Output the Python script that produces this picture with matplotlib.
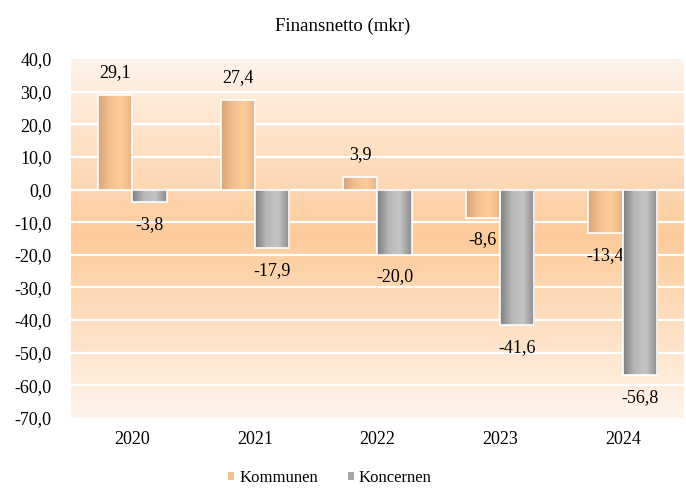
import numpy as np
import matplotlib
matplotlib.use("Agg")
import matplotlib.pyplot as plt
from matplotlib.colors import LinearSegmentedColormap
from matplotlib.patches import Patch

years = ["2020", "2021", "2022", "2023", "2024"]
kommunen = [29.1, 27.4, 3.9, -8.6, -13.4]
koncernen = [-3.8, -17.9, -20.0, -41.6, -56.8]
yticks = [40, 30, 20, 10, 0, -10, -20, -30, -40, -50, -60, -70]

plt.rcParams['font.family'] = ['Liberation Serif', 'DejaVu Serif']

fig = plt.figure(figsize=(6.86, 4.88), dpi=100)
ax = fig.add_axes([71 / 686, 1 - 418 / 488, 613 / 686, 359 / 488])

# background: light at top and bottom, stronger orange in the middle
bg_cmap = LinearSegmentedColormap.from_list(
    "bg", ["#fff4eb", "#fdcb9b", "#fff4eb"])
grad = np.linspace(0, 1, 256).reshape(-1, 1)
ax.imshow(grad, cmap=bg_cmap, aspect="auto", extent=[0, 1, 0, 1],
          transform=ax.transAxes, zorder=0)

ax.set_ylim(-70, 40)
ax.set_xlim(-0.5, len(years) - 0.5)
ax.set_yticks(yticks)
ax.set_yticklabels([f"{v:.1f}".replace(".", ",") for v in yticks], fontsize=13)
ax.set_xticks(range(len(years)))
ax.set_xticklabels(years, fontsize=13)
ax.tick_params(length=0)
ax.tick_params(axis="x", pad=9)
ax.tick_params(axis="y", pad=14)
for s in ax.spines.values():
    s.set_visible(False)
for v in yticks[1:-1]:
    ax.axhline(v, color="white", lw=1.6, zorder=1)

kom_cmap = LinearSegmentedColormap.from_list(
    "kom", ["#d8a57b", "#f3c08f", "#ffcc99", "#e3b386"])
kon_cmap = LinearSegmentedColormap.from_list(
    "kon", ["#7f7f7f", "#b8b8b8", "#c4c4c4", "#8a8a8a"])
hgrad = np.linspace(0, 1, 64).reshape(1, -1)

w = 0.28
x = np.arange(len(years))


def draw_bars(xs, vals, cmap):
    for xc, v in zip(xs, vals):
        lo, hi = min(0, v), max(0, v)
        ax.imshow(hgrad, cmap=cmap, aspect="auto",
                  extent=[xc - w / 2, xc + w / 2, lo, hi], zorder=2)
        ax.bar(xc, v, width=w, fill=False, edgecolor="white", lw=1.2, zorder=3)
        lbl = f"{v:.1f}".replace(".", ",")
        off = 16 if v >= 0 else -16
        ax.annotate(lbl, (xc, v), xytext=(0, off), textcoords="offset points",
                    ha="center", va="center", fontsize=13)


draw_bars(x - w / 2, kommunen, kom_cmap)
draw_bars(x + w / 2, koncernen, kon_cmap)

ax.set_xlim(-0.5, len(years) - 0.5)
ax.set_ylim(-70, 40)

fig.text(343 / 686, 1 - 26 / 488, "Finansnetto (mkr)", ha="center",
         va="center", fontsize=13.5)

handles = [Patch(facecolor="#f3c08f", edgecolor="none"),
           Patch(facecolor="#a6a6a6", edgecolor="none")]
fig.legend(handles, ["Kommunen", "Koncernen"], loc="center",
           bbox_to_anchor=(330 / 686, 1 - 478 / 488), ncol=2, frameon=False,
           fontsize=12, handlelength=0.35, handleheight=0.35,
           handletextpad=0.3, columnspacing=1.8)

fig.savefig("out.png", dpi=100)
